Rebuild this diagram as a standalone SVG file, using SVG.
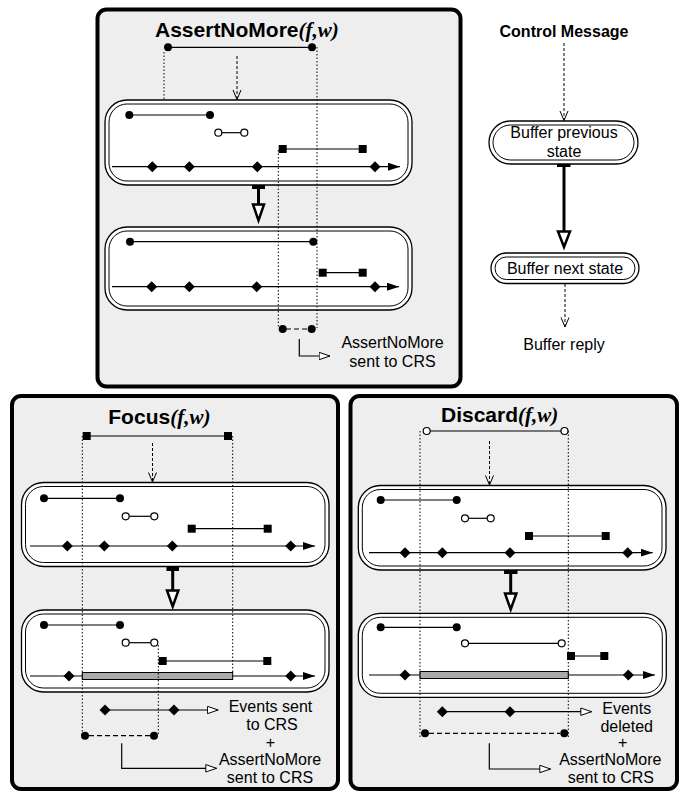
<svg xmlns="http://www.w3.org/2000/svg" xmlns:xlink="http://www.w3.org/1999/xlink" width="683" height="792" viewBox="0 0 683 792">
<style>
.panel{fill:#edeeed;stroke:#000;stroke-width:4}
.bo{fill:#fff;stroke:#000;stroke-width:1.3}
.bi{fill:none;stroke:#000;stroke-width:1}
.ln{stroke:#000;stroke-width:1.2;fill:none}
.dot{fill:#000}
.od{fill:#fff;stroke:#000;stroke-width:1.2}
.sq{fill:#000}
.dotted{stroke:#000;stroke-width:1;stroke-dasharray:1.5 2;fill:none}
.dashed{stroke:#000;stroke-width:1;stroke-dasharray:3 2;fill:none}
.dashed2{stroke:#000;stroke-width:1.2;stroke-dasharray:5 3;fill:none}
.gbar{fill:#aaa;stroke:#000;stroke-width:1}
.thick{stroke:#000;stroke-width:3;fill:none}
.tri{fill:#fff;stroke:#000;stroke-width:2.5;stroke-linejoin:miter}
.t{font-family:"Liberation Sans",Arial,Helvetica,sans-serif;font-size:16px;fill:#000}
.title{font-family:"Liberation Sans",Arial,Helvetica,sans-serif;font-size:21px;font-weight:bold;fill:#000}
.it{font-family:"Liberation Serif","Times New Roman",serif;font-style:italic;font-weight:bold}
.tl{stroke:#000;stroke-width:1.2;fill:none}
</style>
<defs>
<marker id="openV" viewBox="0 0 11 10" refX="10" refY="5" markerWidth="11" markerHeight="10" markerUnits="userSpaceOnUse" orient="auto">
<path d="M0.5,1 L10,5 L0.5,9" fill="none" stroke="#000" stroke-width="1"/>
</marker>
<marker id="fillTri" viewBox="0 0 12 8" refX="12" refY="4" markerWidth="12" markerHeight="8" markerUnits="userSpaceOnUse" orient="auto">
<path d="M0,0 L12,4 L0,8 Z" fill="#000"/>
</marker>
<marker id="openTri" viewBox="0 0 12 9" refX="11.5" refY="4.5" markerWidth="12" markerHeight="9" markerUnits="userSpaceOnUse" orient="auto">
<path d="M0.6,0.8 L11.3,4.5 L0.6,8.2 Z" fill="#fff" stroke="#000" stroke-width="1"/>
</marker>
<path id="dia" d="M0,-5.5 L5.5,0 L0,5.5 L-5.5,0 Z" fill="#000"/>
</defs>

<!-- Panels -->
<g id="panel-assertnomore">
<rect class="panel" x="97.5" y="9.5" width="363" height="377" rx="9"/>
<text class="title" x="155" y="37">AssertNoMore<tspan class="it">(f,w)</tspan></text>
<g id="anm-interval">
<line class="ln" x1="168" y1="47.3" x2="312" y2="47.3"/>
<circle class="dot" cx="168" cy="47.3" r="4"/>
<circle class="dot" cx="312" cy="47.3" r="4"/>
</g>
<g id="anm-buffer-prev">
<rect class="bo" x="105" y="100" width="307" height="85" rx="22"/>
<rect class="bi" x="109" y="104" width="299" height="77" rx="18"/>
<line class="ln" x1="129.3" y1="115" x2="210" y2="115"/>
<circle class="dot" cx="129.3" cy="115" r="4"/><circle class="dot" cx="210" cy="115" r="4"/>
<line class="ln" x1="218.3" y1="132.7" x2="244.3" y2="132.7"/>
<circle class="od" cx="218.3" cy="132.7" r="3.5"/><circle class="od" cx="244.3" cy="132.7" r="3.5"/>
<line class="ln" x1="282.7" y1="149" x2="362.7" y2="149"/>
<rect class="sq" x="278.7" y="145" width="8" height="8"/><rect class="sq" x="358.7" y="145" width="8" height="8"/>
<line class="tl" x1="112" y1="166.7" x2="400" y2="166.7" marker-end="url(#fillTri)"/>
<use xlink:href="#dia" x="152.3" y="166.7"/><use xlink:href="#dia" x="189.3" y="166.7"/><use xlink:href="#dia" x="257.3" y="166.7"/><use xlink:href="#dia" x="375" y="166.7"/>
</g>
<g id="anm-buffer-next">
<rect class="bo" x="105" y="227" width="307" height="83" rx="22"/>
<rect class="bi" x="109" y="231" width="299" height="75" rx="18"/>
<line class="ln" x1="130" y1="241.7" x2="313.3" y2="241.7"/>
<circle class="dot" cx="130" cy="241.7" r="4"/><circle class="dot" cx="313.3" cy="241.7" r="4"/>
<line class="ln" x1="322.7" y1="272.7" x2="362.7" y2="272.7"/>
<rect class="sq" x="318.7" y="268.7" width="8" height="8"/><rect class="sq" x="358.7" y="268.7" width="8" height="8"/>
<line class="tl" x1="112" y1="286.7" x2="399" y2="286.7" marker-end="url(#fillTri)"/>
<use xlink:href="#dia" x="151.7" y="286.7"/><use xlink:href="#dia" x="189.3" y="286.7"/><use xlink:href="#dia" x="256.7" y="286.7"/><use xlink:href="#dia" x="375" y="286.7"/>
</g>
<g id="anm-result">
<circle class="dot" cx="282.7" cy="329" r="4"/><circle class="dot" cx="311.7" cy="329" r="4"/>
<text class="t" text-anchor="middle" x="392.5" y="348.3">AssertNoMore</text>
<text class="t" text-anchor="middle" x="392.5" y="366.7">sent to CRS</text>
</g>
</g>

<g id="panel-focus">
<rect class="panel" x="12" y="396" width="326" height="393" rx="9"/>
<text class="title" x="108.3" y="424">Focus<tspan class="it">(f,w)</tspan></text>
<g id="focus-interval">
<line class="ln" x1="86.7" y1="436" x2="228" y2="436"/>
<rect class="sq" x="82.7" y="432" width="8" height="8"/><rect class="sq" x="224" y="432" width="8" height="8"/>
</g>
<g id="focus-buffer-prev">
<rect class="bo" x="21.5" y="482.5" width="307.5" height="84" rx="22"/>
<rect class="bi" x="25.5" y="486.5" width="299.5" height="76" rx="18"/>
<line class="ln" x1="44" y1="498.3" x2="120" y2="498.3"/>
<circle class="dot" cx="44" cy="498.3" r="4"/><circle class="dot" cx="120" cy="498.3" r="4"/>
<line class="ln" x1="125.7" y1="516.3" x2="154.3" y2="516.3"/>
<circle class="od" cx="125.7" cy="516.3" r="3.5"/><circle class="od" cx="154.3" cy="516.3" r="3.5"/>
<line class="ln" x1="191.7" y1="528.7" x2="267.7" y2="528.7"/>
<rect class="sq" x="187.7" y="524.7" width="8" height="8"/><rect class="sq" x="263.7" y="524.7" width="8" height="8"/>
<line class="tl" x1="30" y1="546" x2="315" y2="546" marker-end="url(#fillTri)"/>
<use xlink:href="#dia" x="67.3" y="546"/><use xlink:href="#dia" x="104.3" y="546"/><use xlink:href="#dia" x="172.3" y="546"/><use xlink:href="#dia" x="290.7" y="546"/>
</g>
<g id="focus-buffer-next">
<rect class="bo" x="21.5" y="610" width="307.5" height="82" rx="22"/>
<rect class="bi" x="25.5" y="614" width="299.5" height="74" rx="18"/>
<line class="ln" x1="44" y1="625" x2="120" y2="625"/>
<circle class="dot" cx="44" cy="625" r="4"/><circle class="dot" cx="120" cy="625" r="4"/>
<line class="ln" x1="125.7" y1="642.7" x2="154.3" y2="642.7"/>
<circle class="od" cx="125.7" cy="642.7" r="3.5"/><circle class="od" cx="154.3" cy="642.7" r="3.5"/>
<line class="ln" x1="162.7" y1="661" x2="267.3" y2="661"/>
<rect class="sq" x="158.7" y="657" width="8" height="8"/><rect class="sq" x="263.3" y="657" width="8" height="8"/>
<line class="tl" x1="30" y1="676" x2="315" y2="676" marker-end="url(#fillTri)"/>
<rect class="gbar" x="82.3" y="672.5" width="150.4" height="7"/>
<use xlink:href="#dia" x="69" y="676"/><use xlink:href="#dia" x="290.7" y="676"/>
</g>
<g id="focus-result">
<circle class="dot" cx="85" cy="735.7" r="4"/><circle class="dot" cx="154" cy="735.7" r="4"/>
<text class="t" text-anchor="middle" x="270.5" y="711.7">Events sent</text>
<text class="t" text-anchor="middle" x="272" y="730">to CRS</text>
<text class="t" text-anchor="middle" x="270.5" y="747.5">+</text>
<text class="t" text-anchor="middle" x="270" y="765">AssertNoMore</text>
<text class="t" text-anchor="middle" x="270" y="783.3">sent to CRS</text>
</g>
</g>

<g id="panel-discard">
<rect class="panel" x="350.5" y="396" width="326.5" height="393" rx="9"/>
<text class="title" x="441" y="422">Discard<tspan class="it">(f,w)</tspan></text>
<g id="discard-interval">
<line class="ln" x1="426.7" y1="431" x2="564.5" y2="431"/>
<circle class="od" cx="426.7" cy="431" r="3.5"/><circle class="od" cx="564.5" cy="431" r="3.5"/>
</g>
<g id="discard-buffer-prev">
<rect class="bo" x="358.3" y="485.5" width="307.7" height="84.5" rx="22"/>
<rect class="bi" x="362.3" y="489.5" width="299.7" height="76.5" rx="18"/>
<line class="ln" x1="380.7" y1="500" x2="456.7" y2="500"/>
<circle class="dot" cx="380.7" cy="500" r="4"/><circle class="dot" cx="456.7" cy="500" r="4"/>
<line class="ln" x1="465" y1="518.3" x2="490.7" y2="518.3"/>
<circle class="od" cx="465" cy="518.3" r="3.5"/><circle class="od" cx="490.7" cy="518.3" r="3.5"/>
<line class="ln" x1="529" y1="536" x2="605.7" y2="536"/>
<rect class="sq" x="525" y="532" width="8" height="8"/><rect class="sq" x="601.7" y="532" width="8" height="8"/>
<line class="tl" x1="369" y1="552.7" x2="652.7" y2="552.7" marker-end="url(#fillTri)"/>
<use xlink:href="#dia" x="405" y="552.7"/><use xlink:href="#dia" x="442.3" y="552.7"/><use xlink:href="#dia" x="510" y="552.7"/><use xlink:href="#dia" x="627.7" y="552.7"/>
</g>
<g id="discard-buffer-next">
<rect class="bo" x="358.3" y="613.3" width="308" height="84" rx="22"/>
<rect class="bi" x="362.3" y="617.3" width="300" height="76" rx="18"/>
<line class="ln" x1="380.7" y1="627.3" x2="456.7" y2="627.3"/>
<circle class="dot" cx="380.7" cy="627.3" r="4"/><circle class="dot" cx="456.7" cy="627.3" r="4"/>
<line class="ln" x1="465" y1="643.3" x2="561.7" y2="643.3"/>
<circle class="od" cx="465" cy="643.3" r="3.5"/><circle class="od" cx="561.7" cy="643.3" r="3.5"/>
<line class="ln" x1="571" y1="656" x2="604.3" y2="656"/>
<rect class="sq" x="567" y="652" width="8" height="8"/><rect class="sq" x="600.3" y="652" width="8" height="8"/>
<line class="tl" x1="369" y1="675" x2="655" y2="675" marker-end="url(#fillTri)"/>
<rect class="gbar" x="420" y="671.5" width="148.3" height="7"/>
<use xlink:href="#dia" x="405" y="675"/><use xlink:href="#dia" x="628.3" y="675"/>
</g>
<g id="discard-result">
<circle class="dot" cx="425" cy="733.3" r="4"/><circle class="dot" cx="564.3" cy="733.3" r="4"/>
<text class="t" text-anchor="middle" x="626.7" y="714">Events</text>
<text class="t" text-anchor="middle" x="626.7" y="731.7">deleted</text>
<text class="t" text-anchor="middle" x="622.7" y="747.5">+</text>
<text class="t" text-anchor="middle" x="610.3" y="765">AssertNoMore</text>
<text class="t" text-anchor="middle" x="610.8" y="783.3">sent to CRS</text>
</g>
</g>

<!-- Legend column -->
<g id="legend-control-message">
<text class="t" text-anchor="middle" x="564" y="37" font-weight="bold" font-size="16.5">Control Message</text>
</g>
<g id="legend-buffer-prev">
<rect class="bo" x="489" y="121" width="149" height="43" rx="21.5"/>
<rect class="bi" x="493" y="125" width="141" height="35" rx="17.5"/>
<text class="t" text-anchor="middle" x="564" y="138">Buffer previous</text>
<text class="t" text-anchor="middle" x="564" y="157">state</text>
</g>
<g id="legend-buffer-next">
<rect class="bo" x="491" y="253" width="148" height="30.5" rx="15.25"/>
<rect class="bi" x="495" y="257" width="140" height="22.5" rx="11.25"/>
<text class="t" text-anchor="middle" x="565" y="273.5">Buffer next state</text>
</g>
<g id="legend-buffer-reply">
<text class="t" text-anchor="middle" x="564" y="350">Buffer reply</text>
</g>

<!-- Connectors -->
<g id="connectors">
<!-- AssertNoMore panel -->
<line class="dotted" x1="164" y1="52" x2="164" y2="99"/>
<line class="dotted" x1="317" y1="47" x2="317" y2="328"/>
<line class="dotted" x1="278.3" y1="150" x2="278.3" y2="328"/>
<line class="dashed" x1="237" y1="56" x2="237" y2="99.5" marker-end="url(#openV)"/>
<rect x="252" y="185" width="13" height="4" fill="#000"/>
<line class="thick" x1="258.5" y1="188" x2="258.5" y2="205"/>
<polygon class="tri" points="253,204.5 264,204.5 258.5,220.5"/>
<line class="dashed2" x1="286" y1="329" x2="308" y2="329"/>
<path class="ln" d="M299.3,339 V356 H330" marker-end="url(#openTri)"/>

<!-- Focus panel -->
<line class="dotted" x1="82.3" y1="436" x2="82.3" y2="735"/>
<line class="dotted" x1="232.7" y1="436" x2="232.7" y2="673"/>
<line class="dotted" x1="158.3" y1="645" x2="158.3" y2="735"/>
<line class="dashed" x1="152.5" y1="443" x2="152.5" y2="482" marker-end="url(#openV)"/>
<rect x="166.5" y="567" width="12.5" height="4" fill="#000"/>
<line class="thick" x1="172.7" y1="570" x2="172.7" y2="591"/>
<polygon class="tri" points="167,590.5 178.4,590.5 172.7,606.5"/>
<line class="tl" x1="105" y1="710" x2="218.3" y2="710" marker-end="url(#openTri)"/>
<use xlink:href="#dia" x="105" y="710"/><use xlink:href="#dia" x="174" y="710"/>
<line class="dashed2" x1="89" y1="735.7" x2="150" y2="735.7"/>
<path class="ln" d="M121.7,743.3 V768.3 H216.7" marker-end="url(#openTri)"/>

<!-- Discard panel -->
<line class="dotted" x1="420" y1="431" x2="420" y2="737"/>
<line class="dotted" x1="568.3" y1="431" x2="568.3" y2="737"/>
<line class="dashed" x1="489.5" y1="441" x2="489.5" y2="485" marker-end="url(#openV)"/>
<rect x="504" y="570" width="13.5" height="4" fill="#000"/>
<line class="thick" x1="510.7" y1="573" x2="510.7" y2="594"/>
<polygon class="tri" points="505,593.5 516.4,593.5 510.7,609.5"/>
<line class="tl" x1="442.3" y1="711.7" x2="591.7" y2="711.7" marker-end="url(#openTri)"/>
<use xlink:href="#dia" x="442.3" y="711.7"/><use xlink:href="#dia" x="510" y="711.7"/>
<line class="dashed2" x1="429" y1="733.3" x2="560" y2="733.3"/>
<path class="ln" d="M489.3,743.3 V769 H550.7" marker-end="url(#openTri)"/>

<!-- Legend -->
<line class="dashed" x1="564" y1="43" x2="564" y2="120.5" marker-end="url(#openV)"/>
<rect x="557" y="164" width="13.5" height="3" fill="#000"/>
<line class="thick" x1="564" y1="166" x2="564" y2="232"/>
<polygon class="tri" points="558,231.5 570,231.5 564,247"/>
<line class="dashed" x1="565" y1="284" x2="565" y2="327" marker-end="url(#openV)"/>
</g>
</svg>
